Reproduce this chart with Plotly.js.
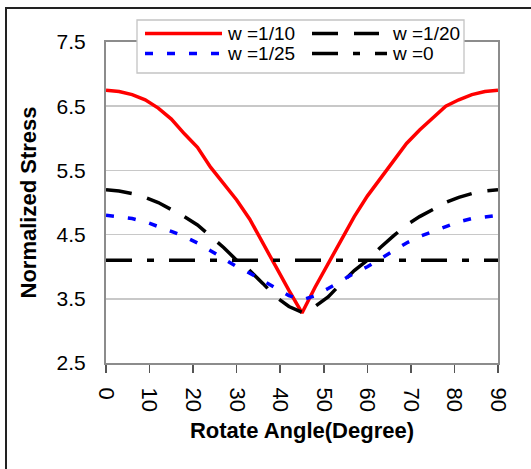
<!DOCTYPE html>
<html><head><meta charset="utf-8">
<script src="https://cdn.plot.ly/plotly-3.0.1.min.js"></script>
<style>
html,body{margin:0;padding:0;background:#fff;overflow:hidden}
#chart{width:531px;height:469px}
#frame{position:absolute;left:5px;top:7px;width:600px;height:600px;border-left:2px solid #222;border-top:2px solid #222;pointer-events:none}
</style>
</head><body>
<div id="chart"></div><div id="frame"></div>
<script>
// ---- data ----
const angles = [0,3,6,9,12,15,18,21,24,27,30,33,36,39,42,45,48,51,54,57,60,63,66,69,72,75,78,81,84,87,90];
const w10 = [6.75,6.73,6.68,6.60,6.47,6.30,6.07,5.86,5.55,5.30,5.04,4.74,4.38,4.00,3.63,3.28,3.68,4.05,4.40,4.78,5.10,5.38,5.64,5.92,6.13,6.32,6.50,6.60,6.68,6.73,6.75];
const w20 = [5.20,5.18,5.14,5.08,5.00,4.89,4.78,4.65,4.48,4.30,4.10,3.94,3.74,3.53,3.38,3.29,3.38,3.53,3.74,3.94,4.10,4.30,4.48,4.65,4.78,4.89,5.00,5.08,5.14,5.18,5.20];
const w25 = [4.80,4.78,4.75,4.70,4.63,4.55,4.47,4.37,4.25,4.12,4.00,3.90,3.78,3.66,3.55,3.48,3.55,3.66,3.78,3.90,4.00,4.12,4.25,4.37,4.47,4.55,4.63,4.70,4.75,4.78,4.80];
const w0  = [4.1,4.1,4.1,4.1,4.1,4.1,4.1,4.1,4.1,4.1,4.1,4.1,4.1,4.1,4.1,4.1,4.1,4.1,4.1,4.1,4.1,4.1,4.1,4.1,4.1,4.1,4.1,4.1,4.1,4.1,4.1];
const seriesNames = ['w =1/10','w =1/20','w =1/25','w =0'];
const xTicks = [0,10,20,30,40,50,60,70,80,90];
const yTicks = [2.5,3.5,4.5,5.5,6.5,7.5];
const yTickText = ['2.5','3.5','4.5','5.5','6.5','7.5'];

// ---- styles ----
const FONT = 'Arial, "Liberation Sans", sans-serif';
const styles = [
  {color:'#ff0000', width:3.5, dash:'solid'},
  {color:'#000000', width:3.5, dash:'26px,16px'},
  {color:'#0000ff', width:3.5, dash:'8px,14px'},
  {color:'#000000', width:3.5, dash:'26px,15px,7px,15px'}
];
const seriesData = [w10, w20, w25, w0];

const traces = seriesData.map((ys, i) => ({
  type:'scatter', mode:'lines', x:angles, y:ys, name:seriesNames[i],
  line:{color:styles[i].color, width:styles[i].width, dash:styles[i].dash},
  hoverinfo:'skip'
}));

// pixel -> paper helpers for the hand-drawn legend
const L=106, R=498, T=42, B=363;
const px = x => (x-L)/(R-L);
const py = y => (B-y)/(B-T);

const shapes = [
  {type:'rect', xref:'paper', yref:'paper', x0:px(137), x1:px(464), y0:py(20), y1:py(73),
   fillcolor:'#ffffff', line:{color:'#c4c4c4', width:1.3}, layer:'above'}
];
const legendPos = [
  {x0:145, x1:222, y:33.5, tx:226},
  {x0:312, x1:379, y:33.5, tx:391},
  {x0:145, x1:222, y:53.5, tx:226},
  {x0:312, x1:387, y:53.5, tx:391}
];
const annotations = [];
legendPos.forEach((p, i) => {
  shapes.push({type:'line', xref:'paper', yref:'paper', x0:px(p.x0), x1:px(p.x1), y0:py(p.y), y1:py(p.y),
    line:{color:styles[i].color, width:styles[i].width, dash:styles[i].dash}, layer:'above'});
  annotations.push({xref:'paper', yref:'paper', x:px(p.tx), y:py(p.y), xanchor:'left', yanchor:'middle',
    text:seriesNames[i], showarrow:false, font:{family:FONT, size:19, color:'#000'}, borderpad:0});
});

const layout = {
  width:531, height:469,
  margin:{l:L, r:531-R, t:T, b:469-B},
  paper_bgcolor:'#ffffff', plot_bgcolor:'#ffffff',
  showlegend:false,
  font:{family:FONT, size:21, color:'#000'},
  xaxis:{
    range:[0,90], tickmode:'array', tickvals:xTicks, ticktext:xTicks.map(String),
    tickangle:90, ticks:'outside', ticklen:8, tickwidth:1.5, tickcolor:'#555',
    ticklabelstandoff:10,
    showline:true, linecolor:'#8c8c8c', linewidth:2, mirror:true,
    showgrid:false, zeroline:false,
    tickfont:{family:FONT, size:22, color:'#000'},
    title:{text:'Rotate Angle(Degree)', font:{family:FONT, size:22, color:'#000', weight:'bold'}, standoff:12}
  },
  yaxis:{
    range:[2.5,7.5], tickmode:'array', tickvals:yTicks, ticktext:yTickText,
    ticks:'', ticklabelstandoff:14,
    showline:true, linecolor:'#8c8c8c', linewidth:2, mirror:true,
    showgrid:true, gridcolor:'#c8c8c8', gridwidth:1.5, zeroline:false,
    tickfont:{family:FONT, size:21, color:'#000'},
    title:{text:'Normalized Stress', font:{family:FONT, size:22, color:'#000', weight:'bold'}, standoff:14}
  },
  shapes:shapes,
  annotations:annotations
};

Plotly.newPlot('chart', traces, layout, {displayModeBar:false, staticPlot:true});
</script>
</body></html>
